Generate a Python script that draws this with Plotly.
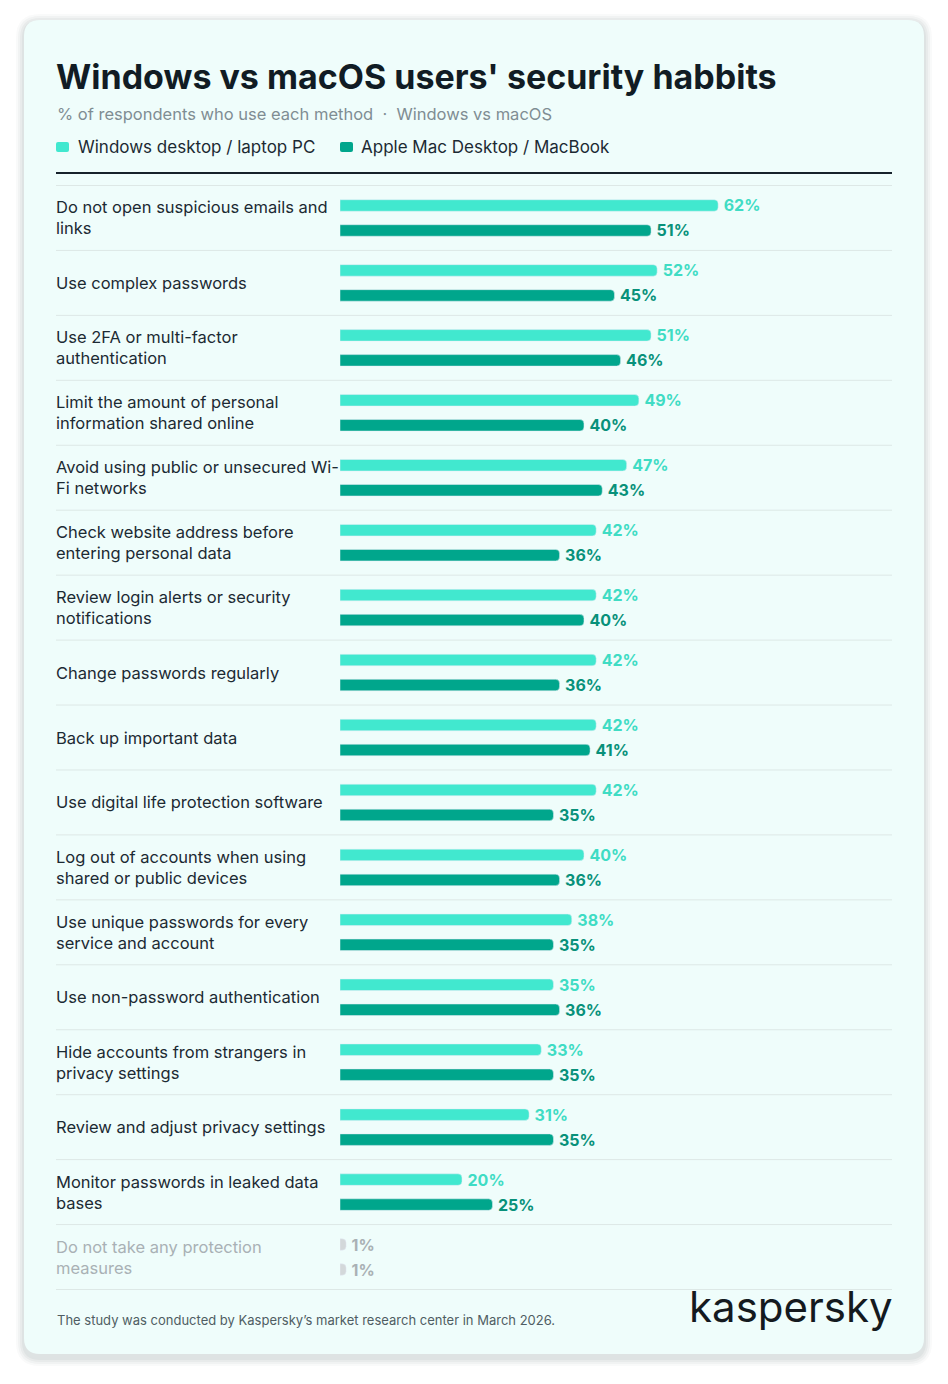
import plotly.graph_objects as go

W, H = 948, 1384
OFF = 8  # default body margin of the html page

categories = [
    "Do not open suspicious emails and<br>links",
    "Use complex passwords",
    "Use 2FA or multi-factor<br>authentication",
    "Limit the amount of personal<br>information shared online",
    "Avoid using public or unsecured Wi-<br>Fi networks",
    "Check website address before<br>entering personal data",
    "Review login alerts or security<br>notifications",
    "Change passwords regularly",
    "Back up important data",
    "Use digital life protection software",
    "Log out of accounts when using<br>shared or public devices",
    "Use unique passwords for every<br>service and account",
    "Use non-password authentication",
    "Hide accounts from strangers in<br>privacy settings",
    "Review and adjust privacy settings",
    "Monitor passwords in leaked data<br>bases",
    "Do not take any protection<br>measures",
]
windows = [62, 52, 51, 49, 47, 42, 42, 42, 42, 42, 40, 38, 35, 33, 31, 20, 1]
macos = [51, 45, 46, 40, 43, 36, 40, 36, 41, 35, 36, 35, 36, 35, 35, 25, 1]
series_names = ["Windows desktop / laptop PC", "Apple Mac Desktop / MacBook"]

title = "Windows vs macOS users' security habbits"
subtitle = "% of respondents who use each method  ·  Windows vs macOS"
footnote = "The study was conducted by Kaspersky\u2019s market research center in March 2026."

WIN_BAR, WIN_TXT = "#41e8cf", "#3fdcc4"
MAC_BAR, MAC_TXT = "#00a68c", "#08917a"
GREY_BAR, GREY_TXT = "#d3d8da", "#a9b1b5"
CARD = "#effdfb"
DARK = "#1c2a33"
FONT = "Inter"


def px(x):
    return (x - OFF) / W


def py(y):
    return 1 - (y - OFF) / H


def rounded_rect(x0, y0, x1, y1, r):
    # path in paper coords, pixel input
    pts = [
        f"M {px(x0 + r)} {py(y0)}",
        f"L {px(x1 - r)} {py(y0)}",
        f"Q {px(x1)} {py(y0)} {px(x1)} {py(y0 + r)}",
        f"L {px(x1)} {py(y1 - r)}",
        f"Q {px(x1)} {py(y1)} {px(x1 - r)} {py(y1)}",
        f"L {px(x0 + r)} {py(y1)}",
        f"Q {px(x0)} {py(y1)} {px(x0)} {py(y1 - r)}",
        f"L {px(x0)} {py(y0 + r)}",
        f"Q {px(x0)} {py(y0)} {px(x0 + r)} {py(y0)}",
        "Z",
    ]
    return " ".join(pts)


last = len(categories) - 1
win_colors = [WIN_BAR] * last + [GREY_BAR]
mac_colors = [MAC_BAR] * last + [GREY_BAR]
win_txt = [WIN_TXT] * last + [GREY_TXT]
mac_txt = [MAC_TXT] * last + [GREY_TXT]

fig = go.Figure()
fig.add_trace(go.Bar(
    y=categories, x=windows, orientation="h", name=series_names[0],
    marker=dict(color=win_colors, cornerradius=4),
    texttemplate="\u2009%{x}%", textposition="outside", cliponaxis=False,
    constraintext="none",
    outsidetextfont=dict(family=FONT, size=16, color=win_txt, weight=700),
    hoverinfo="skip",
))
fig.add_trace(go.Bar(
    y=categories, x=macos, orientation="h", name=series_names[1],
    marker=dict(color=mac_colors, cornerradius=4),
    texttemplate="\u2009%{x}%", textposition="outside", cliponaxis=False,
    constraintext="none",
    outsidetextfont=dict(family=FONT, size=16, color=mac_txt, weight=700),
    hoverinfo="skip",
))

shapes = []
# card shadow + card
for i, op in enumerate([0.025, 0.03, 0.035, 0.04]):
    g = 8 - i * 2
    shapes.append(dict(type="path", xref="paper", yref="paper", layer="below",
                       path=rounded_rect(24 - g, 22 - g, 924 + g, 1356 + g + 2, 16 + g),
                       fillcolor=f"rgba(0,40,40,{op})", line=dict(width=0)))
shapes.append(dict(type="path", xref="paper", yref="paper", layer="below",
                   path=rounded_rect(24, 20, 924, 1354, 16),
                   fillcolor=CARD, line=dict(width=0)))
# header rule
shapes.append(dict(type="line", xref="paper", yref="paper",
                   x0=px(56), x1=px(892), y0=py(173), y1=py(173),
                   line=dict(color="#16222b", width=2)))
# row separators
for i in range(len(categories) + 1):
    shapes.append(dict(type="line", xref="paper", yref="y",
                       x0=px(56), x1=px(892), y0=i - 0.5, y1=i - 0.5,
                       line=dict(color="#dde8e6", width=1)))
# legend swatches
for x0, c in [(56, WIN_BAR), (340, MAC_BAR)]:
    shapes.append(dict(type="path", xref="paper", yref="paper",
                       path=rounded_rect(x0, 142, x0 + 13, 152, 2),
                       fillcolor=c, line=dict(width=0)))

annotations = [
    dict(text=f"<b>{title}</b>", x=px(54), y=py(76), xref="paper", yref="paper",
         xanchor="left", yanchor="middle", showarrow=False,
         font=dict(family=FONT, size=34, color="#111c24", weight=800)),
    dict(text=subtitle, x=px(55), y=py(114), xref="paper", yref="paper",
         xanchor="left", yanchor="middle", showarrow=False,
         font=dict(family=FONT, size=16.5, color="#7f8d93")),
    dict(text=series_names[0], x=px(76), y=py(147), xref="paper", yref="paper",
         xanchor="left", yanchor="middle", showarrow=False,
         font=dict(family=FONT, size=17, color=DARK)),
    dict(text=series_names[1], x=px(359), y=py(147), xref="paper", yref="paper",
         xanchor="left", yanchor="middle", showarrow=False,
         font=dict(family=FONT, size=17, color=DARK)),
    dict(text=footnote, x=px(55), y=py(1320), xref="paper", yref="paper",
         xanchor="left", yanchor="middle", showarrow=False,
         font=dict(family=FONT, size=13, color="#4f5d63")),
    dict(text="kaspersky", x=px(895), y=py(1306), xref="paper", yref="paper",
         xanchor="right", yanchor="middle", showarrow=False,
         font=dict(family=FONT, size=42, color="#141a1f")),
]
for i, cat in enumerate(categories):
    annotations.append(dict(
        text=cat, x=px(54), y=cat, xref="paper", yref="y",
        xanchor="left", yanchor="middle", align="left", showarrow=False,
        font=dict(family=FONT, size=16.5, color=GREY_TXT if i == last else DARK),
    ))

fig.update_layout(
    width=W, height=H,
    margin=dict(l=0, r=0, t=0, b=0),
    paper_bgcolor="white", plot_bgcolor="rgba(0,0,0,0)",
    barmode="group", bargap=0.23, bargroupgap=0.54,
    showlegend=False,
    xaxis=dict(domain=[px(340), px(892)], range=[0, 90.5], visible=False, fixedrange=True),
    yaxis=dict(domain=[py(1290), py(185)], autorange="reversed", visible=False,
               categoryorder="array", categoryarray=categories, fixedrange=True),
    shapes=shapes, annotations=annotations,
    font=dict(family=FONT),
)

fig.write_html("out.html")
